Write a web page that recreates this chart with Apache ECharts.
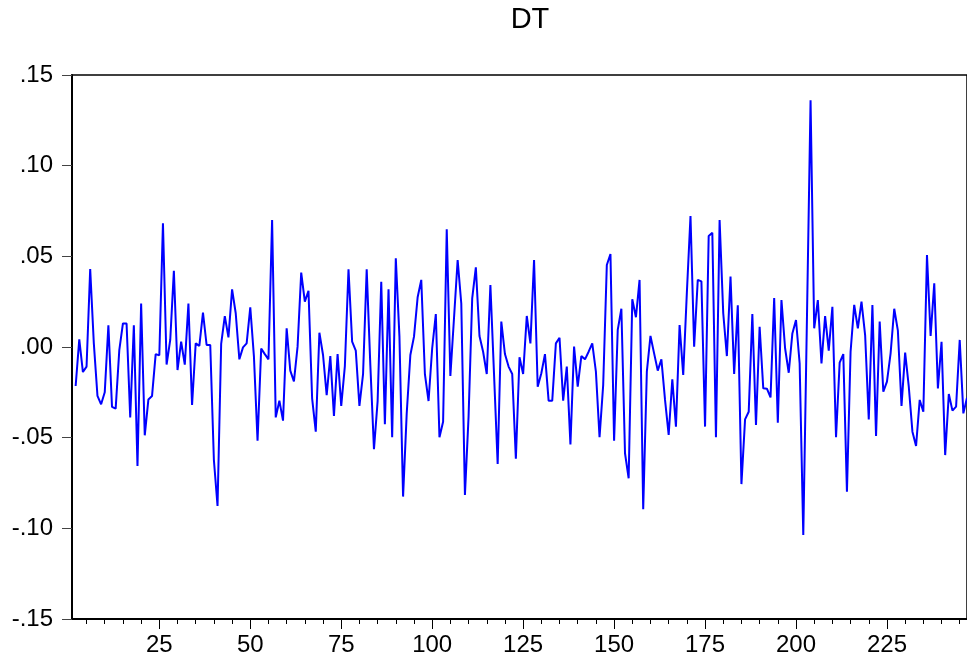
<!DOCTYPE html>
<html>
<head>
<meta charset="utf-8">
<script src="https://cdn.jsdelivr.net/npm/echarts@6/dist/echarts.min.js"></script>
<style>
  html, body { margin: 0; padding: 0; background: #fff; }
  #dt-chart { width: 967px; height: 666px; }
</style>
</head>
<body>
<div id="dt-chart"></div>
<script>
// observation numbers on the x axis (first obs is lost to differencing)
var obs = [];
for (var k = 1; k <= 247; k++) obs.push(k);

// DT, obs 2..247
var dtValues = [
  null,
  -0.0215, 0.0042, -0.0138, -0.0108, 0.0430, 0.0020, -0.0270, -0.0316, -0.0250,
  0.0120, -0.0330, -0.0340, -0.0017, 0.0130, 0.0130, -0.0388, 0.0120, -0.0656, 0.0240,
  -0.0487, -0.0289, -0.0270, -0.0039, -0.0046, 0.0682, -0.0097, 0.0039, 0.0420, -0.0127,
  0.0029, -0.0097, 0.0240, -0.0320, 0.0020, 0.0006, 0.0190, 0.0011, 0.0011, -0.0623,
  -0.0877, 0.0017, 0.0170, 0.0053, 0.0318, 0.0186, -0.0068, -0.0002, 0.0020, 0.0219,
  -0.0050, -0.0517, -0.0009, -0.0039, -0.0068, 0.0700, -0.0388, -0.0296, -0.0406, 0.0103,
  -0.0130, -0.0190, 0.0002, 0.0410, 0.0250, 0.0310, -0.0283, -0.0467, 0.0079, -0.0044,
  -0.0265, -0.0050, -0.0380, -0.0039, -0.0325, -0.0105, 0.0428, 0.0029, -0.0020, -0.0325,
  -0.0149, 0.0428, -0.0100, -0.0564, -0.0300, 0.0360, -0.0426, 0.0318, -0.0498, 0.0489,
  0.0057, -0.0825, -0.0366, -0.0044, 0.0057, 0.0274, 0.0370, -0.0150, -0.0298, -0.0007,
  0.0182, -0.0498, -0.0412, 0.0649, -0.0160, 0.0160, 0.0480, 0.0240, -0.0816, -0.0384,
  0.0268, 0.0439, 0.0061, -0.0026, -0.0149, 0.0342, -0.0150, -0.0645, 0.0140, -0.0039,
  -0.0108, -0.0149, -0.0616, -0.0057, -0.0149, 0.0171, 0.0020, 0.0480, -0.0219, -0.0145,
  -0.0039, -0.0296, -0.0296, 0.0020, 0.0051, -0.0296, -0.0108, -0.0537, 0.0002, -0.0219,
  -0.0050, -0.0068, -0.0026, 0.0020, -0.0136, -0.0498, -0.0210, 0.0452, 0.0513, -0.0517,
  0.0094, 0.0211, -0.0586, -0.0724, 0.0263, 0.0164, 0.0370, -0.0895, -0.0136, 0.0061,
  -0.0035, -0.0130, -0.0068, -0.0292, -0.0485, -0.0178, -0.0439, 0.0121, -0.0154, 0.0300,
  0.0722, 0.0002, 0.0370, 0.0362, -0.0439, 0.0612, 0.0630, -0.0498, 0.0700, 0.0186,
  -0.0050, 0.0388, -0.0149, 0.0230, -0.0756, -0.0399, -0.0357, 0.0182, -0.0430, 0.0112,
  -0.0228, -0.0230, -0.0278, 0.0270, -0.0417, 0.0259, -0.0007, -0.0142, 0.0075, 0.0149,
  -0.0090, -0.1037, 0.0150, 0.1360, 0.0103, 0.0259, -0.0090, 0.0171, -0.0020, 0.0222,
  -0.0498, -0.0086, -0.0039, -0.0798, -0.0026, 0.0232, 0.0103, 0.0250, 0.0066, -0.0399,
  0.0232, -0.0490, 0.0140, -0.0246, -0.0191, -0.0035, 0.0211, 0.0090, -0.0325, -0.0031,
  -0.0219, -0.0467, -0.0546, -0.0292, -0.0357, 0.0507, 0.0061, 0.0351, -0.0228, 0.0029,
  -0.0596, -0.0259, -0.0351, -0.0329, 0.0039, -0.0366, -0.0280
];

var yTicks = [-0.15, 0.15, 0.05]; // min, max, step

var fontFam = "Liberation Sans, Arial, sans-serif";

function fmtY(v) {
  if (Math.abs(v) < 1e-9) return ".00";
  var s = v.toFixed(2);
  return s.replace("0.", ".");
}

var chart = echarts.init(document.getElementById("dt-chart"));
chart.setOption({
  animation: false,
  title: {
    text: "DT",
    left: 525,
    textAlign: "center",
    top: 0,
    textStyle: { fontFamily: fontFam, color: "#000", fontSize: 29, fontWeight: "normal" }
  },
  grid: {
    left: 72,
    top: 75,
    width: 896,
    height: 544,
    show: true,
    borderColor: "#000",
    borderWidth: 1.5,
    backgroundColor: "transparent"
  },
  xAxis: [{
    type: "category",
    data: obs,
    boundaryGap: false,
    axisLine: { onZero: false, lineStyle: { color: "#000", width: 2 } },
    axisTick: {
      length: 5,
      lineStyle: { color: "#000" },
      interval: function(i, v) { return Number(v) % 5 === 0; }
    },
    axisLabel: {
      fontFamily: fontFam, color: "#000", fontSize: 24, margin: 14,
      interval: function(i, v) { return Number(v) % 25 === 0; }
    },
    splitLine: { show: false }
  }, {
    type: "category",
    data: obs,
    position: "bottom",
    boundaryGap: false,
    axisLine: { show: false, onZero: false },
    axisTick: {
      length: 10,
      lineStyle: { color: "#000" },
      interval: function(i, v) { return Number(v) % 25 === 0; }
    },
    axisLabel: { show: false },
    splitLine: { show: false }
  }],
  yAxis: {
    type: "value",
    min: yTicks[0],
    max: yTicks[1],
    interval: yTicks[2],
    axisLine: { show: true, lineStyle: { color: "#000", width: 2 } },
    axisTick: { show: true, length: 10, lineStyle: { color: "#444" } },
    axisLabel: { fontFamily: fontFam, color: "#000", fontSize: 24, margin: 19, formatter: fmtY },
    splitLine: { show: false }
  },
  series: [{
    name: "DT",
    type: "line",
    data: dtValues,
    showSymbol: false,
    symbol: "none",
    connectNulls: false,
    lineStyle: { color: "#0000ff", width: 2 },
    itemStyle: { color: "#0000ff" }
  }]
});
</script>
</body>
</html>
